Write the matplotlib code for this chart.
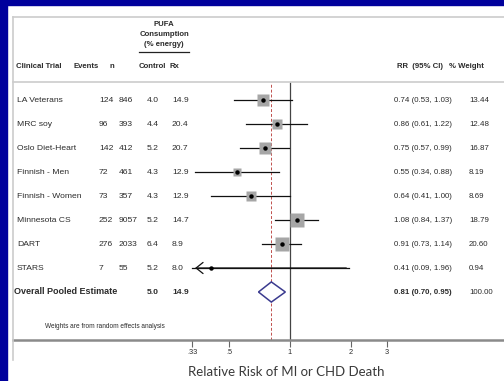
import numpy as np
import matplotlib
matplotlib.use("Agg")
import matplotlib.pyplot as plt
from matplotlib import transforms
from matplotlib.lines import Line2D
from matplotlib.patches import Polygon, Rectangle
from matplotlib.ticker import NullLocator

# trial table
trials = ["LA Veterans", "MRC soy", "Oslo Diet-Heart", "Finnish - Men",
          "Finnish - Women", "Minnesota CS", "DART", "STARS"]
events = [124, 96, 142, 72, 73, 252, 276, 7]
n_pts = [846, 393, 412, 461, 357, 9057, 2033, 55]
pufa_control = [4.0, 4.4, 5.2, 4.3, 4.3, 5.2, 6.4, 5.2]
pufa_rx = [14.9, 20.4, 20.7, 12.9, 12.9, 14.7, 8.9, 8.0]
rr = [0.74, 0.86, 0.75, 0.55, 0.64, 1.08, 0.91, 0.41]
ci_lo = [0.53, 0.61, 0.57, 0.34, 0.41, 0.84, 0.73, 0.09]
ci_hi = [1.03, 1.22, 0.99, 0.88, 1.00, 1.37, 1.14, 1.96]
weight = [13.44, 12.48, 16.87, 8.19, 8.69, 18.79, 20.60, 0.94]

# pooled estimate
pool_rr, pool_lo, pool_hi = 0.81, 0.70, 0.95
pool_control, pool_rx = 5.0, 14.9

xticks = [0.33, 0.5, 1, 2, 3]
xticklabels = [".33", ".5", "1", "2", "3"]

W, H = 504, 381
BLUE = "#00009c"
TXT = "#2b2b2b"
FONT = "Liberation Sans"
FS = 6.1

fig = plt.figure(figsize=(W / 100, H / 100), dpi=100)
fig.patch.set_facecolor("white")


def fx(px):
    return px / W


def fy(py):
    return 1 - py / H


# slide frame
fig.add_artist(Rectangle((0, fy(5)), 1, 1 - fy(5), transform=fig.transFigure,
                         color=BLUE, zorder=0))
fig.add_artist(Rectangle((0, 0), fx(7), 1, transform=fig.transFigure,
                         color=BLUE, zorder=0))
fig.add_artist(Line2D([fx(13), 1], [fy(17), fy(17)], transform=fig.transFigure,
                      color="#cccccc", lw=1.2))
fig.add_artist(Line2D([fx(13), fx(13)], [fy(17), fy(360)], transform=fig.transFigure,
                      color="#cccccc", lw=1.2))

ax = fig.add_axes([fx(13), fy(340), 1 - fx(13), fy(82) - fy(340)])
ax.set_facecolor("none")
ax.set_xscale("log")
ax.set_xlim(0.0430, 11.4)
ax.set_ylim(10, -0.75)
ax.set_yticks([])
ax.set_xticks(xticks)
ax.set_xticklabels(xticklabels, fontsize=5.3, color=TXT, family=FONT)
ax.xaxis.set_minor_locator(NullLocator())
ax.tick_params(axis="x", direction="out", length=5, width=0.8, color="#666666", pad=1.5)
for s in ("left", "right"):
    ax.spines[s].set_visible(False)
ax.spines["top"].set_color("#d0d0d0")
ax.spines["top"].set_linewidth(1.3)
ax.spines["bottom"].set_color("#8a8a8a")
ax.spines["bottom"].set_linewidth(1.8)

ax.axvline(1, color="#444444", lw=0.9, zorder=1)
ax.axvline(pool_rr, color="#c0504d", lw=0.7, ls=(0, (3, 2)), zorder=1)

rows = np.arange(len(trials))
xmin_shown = 0.33
for i in rows:
    left = max(ci_lo[i], xmin_shown)
    ax.plot([left, ci_hi[i]], [i, i], color="#111111", lw=0.9, zorder=2)
    if ci_lo[i] < xmin_shown:
        ax.annotate("", xy=(xmin_shown, i), xytext=(ci_hi[i], i),
                    arrowprops=dict(arrowstyle="->,head_length=0.5,head_width=0.4",
                                    color="#111111", lw=0.9), zorder=2)
    ax.plot(rr[i], i, marker="s", ms=2.2 * np.sqrt(weight[i]),
            mfc="#a6a6a6", mec="none", zorder=3)
ax.plot(rr, rows, "o", ms=2.2, color="black", zorder=4)

ypool = len(trials)
diamond = Polygon([(pool_lo, ypool), (pool_rr, ypool - 0.42),
                   (pool_hi, ypool), (pool_rr, ypool + 0.42)],
                  closed=True, facecolor="white", edgecolor="#3b3b8f", lw=1.1, zorder=5)
ax.add_patch(diamond)

# table text: x in figure fraction, y in row units
tr = transforms.blended_transform_factory(fig.transFigure, ax.transData)
kw = dict(transform=tr, fontsize=FS, color=TXT, family=FONT, va="center")
for i in rows:
    ax.text(fx(17), i, trials[i], ha="left", **kw)
    ax.text(fx(99), i, f"{events[i]}", ha="left", **kw)
    ax.text(fx(119), i, f"{n_pts[i]}", ha="left", **kw)
    ax.text(fx(147), i, f"{pufa_control[i]:.1f}", ha="left", **kw)
    ax.text(fx(172), i, f"{pufa_rx[i]:.1f}", ha="left", **kw)
    ax.text(fx(394), i, f"{rr[i]:.2f} ({ci_lo[i]:.2f}, {ci_hi[i]:.2f})", ha="left",
            **dict(kw, fontsize=5.7))
    ax.text(fx(469), i, f"{weight[i]:.2f}", ha="left", **dict(kw, fontsize=5.7))

bkw = dict(kw, fontweight="bold")
ax.text(fx(14), ypool, "Overall Pooled Estimate", ha="left", **dict(bkw, fontsize=6.5))
ax.text(fx(147), ypool, f"{pool_control:.1f}", ha="left", **bkw)
ax.text(fx(172), ypool, f"{pool_rx:.1f}", ha="left", **bkw)
ax.text(fx(394), ypool, f"{pool_rr:.2f} ({pool_lo:.2f}, {pool_hi:.2f})", ha="left",
        **dict(bkw, fontsize=5.7))
ax.text(fx(469), ypool, f"{sum(weight):.2f}", ha="left", **dict(kw, fontsize=5.7))

ax.text(fx(45), 9.42, "Weights are from random effects analysis", ha="left",
        **dict(kw, fontsize=4.7))

# column headers
hkw = dict(transform=fig.transFigure, fontsize=5.6, color=TXT, family=FONT,
           fontweight="bold", va="center")
fig.text(fx(164), fy(25), "PUFA", ha="center", **hkw)
fig.text(fx(164), fy(35), "Consumption", ha="center", **hkw)
fig.text(fx(164), fy(45), "(% energy)", ha="center", **hkw)
fig.add_artist(Line2D([fx(139), fx(189)], [fy(52), fy(52)], transform=fig.transFigure,
                      color="#222222", lw=0.9))
fig.text(fx(16), fy(66), "Clinical Trial", ha="left", **hkw)
fig.text(fx(73), fy(66), "Events", ha="left", **hkw)
fig.text(fx(109), fy(66), "n", ha="left", **hkw)
fig.text(fx(139), fy(66), "Control", ha="left", **hkw)
fig.text(fx(170), fy(66), "Rx", ha="left", **hkw)
fig.text(fx(397), fy(66), "RR  (95% CI)", ha="left", **hkw)
fig.text(fx(449), fy(66), "% Weight", ha="left", **hkw)

fig.text(fx(286), fy(372), "Relative Risk of MI or CHD Death", ha="center", va="center",
         fontsize=9.5, color="#3a3a3a", family="Lato")

fig.savefig("out.png", dpi=100, facecolor=fig.get_facecolor())
